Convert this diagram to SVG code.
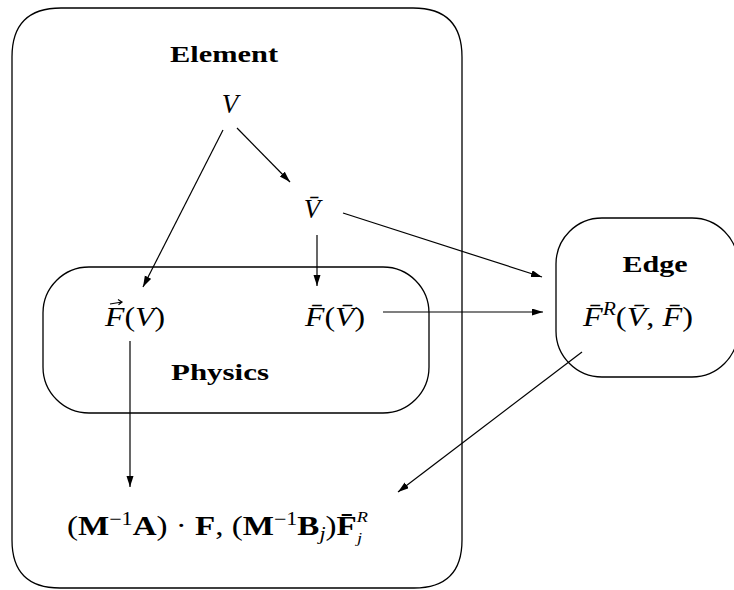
<svg xmlns="http://www.w3.org/2000/svg" width="734" height="590" viewBox="0 0 734 590">
<style>
.box{fill:none;stroke:#000;stroke-width:1.3}
.lbl{font-family:"Liberation Serif",serif;font-weight:bold;font-size:24px;fill:#000}
.m{font-family:"Liberation Serif","DejaVu Serif",serif;font-style:italic;font-size:27px;fill:#000}
.up{font-style:normal}
.b{font-weight:bold;font-style:normal}
.sm{font-size:18px}
.xs{font-size:15px}
.con line{stroke:#000;stroke-width:1.2;marker-end:url(#ah)}
.acc{stroke:#000;stroke-width:1.2;fill:none}
</style>
<defs>
<marker id="ah" markerUnits="userSpaceOnUse" markerWidth="12" markerHeight="8" refX="11" refY="3.5" orient="auto">
<path d="M0,0 L11,3.5 L0,7 z" fill="#000"/>
</marker>
</defs>
<rect width="734" height="590" fill="#fff"/>
<g id="element">
<path class="box" d="M12,540 L12,57 Q12,8 61,8 L413,8 Q462,8 462,57 L462,540 Q462,588 414,588 L60,588 Q12,588 12,540 Z"/>
<text class="lbl" x="224" y="62" text-anchor="middle" textLength="108" lengthAdjust="spacingAndGlyphs">Element</text>
</g>
<g id="V"><text class="m" x="230" y="113" text-anchor="middle">V</text></g>
<g id="Vbar"><text class="m" x="312" y="218" text-anchor="middle">V̄</text></g>
<g id="physics">
<rect class="box" x="43" y="267" width="386" height="146" rx="46" ry="46"/>
<text class="lbl" x="220" y="380" text-anchor="middle" textLength="98" lengthAdjust="spacingAndGlyphs">Physics</text>
</g>
<g id="FV">
<text class="m" x="105" y="326" textLength="60" lengthAdjust="spacingAndGlyphs">F<tspan class="up">(</tspan>V<tspan class="up">)</tspan></text>
<path class="acc" d="M110,304 L122,302 M118,299.5 L122,302 L118.5,304.8"/>
</g>
<g id="FbarVbar"><text class="m" x="305" y="326" textLength="60" lengthAdjust="spacingAndGlyphs">F̄<tspan class="up">(</tspan>V̄<tspan class="up">)</tspan></text></g>
<g id="edge">
<rect class="box" x="556" y="218" width="182" height="159" rx="46" ry="46"/>
<text class="lbl" x="655" y="272" text-anchor="middle" textLength="65" lengthAdjust="spacingAndGlyphs">Edge</text>
<text class="m" x="583" y="326" textLength="110" lengthAdjust="spacingAndGlyphs">F̄<tspan class="sm" dy="-11">R</tspan><tspan class="up" dy="11">(</tspan>V̄<tspan class="up">, </tspan>F̄<tspan class="up">)</tspan></text>
</g>
<g id="result">
<text class="m" x="67" y="535" textLength="301" lengthAdjust="spacingAndGlyphs"><tspan class="up">(</tspan><tspan class="b">M</tspan><tspan class="up sm" dy="-10">−1</tspan><tspan class="b" dy="10">A</tspan><tspan class="up">) · </tspan><tspan class="b">F</tspan><tspan class="up">, (</tspan><tspan class="b">M</tspan><tspan class="up sm" dy="-10">−1</tspan><tspan class="b" dy="10">B</tspan><tspan class="sm" dy="5">j</tspan><tspan class="up" dy="-5">)</tspan><tspan class="b">F̄</tspan><tspan class="xs" dy="-13">R</tspan><tspan class="xs" dx="-9" dy="21">j</tspan></text>
</g>
<g class="con" id="connectors">
<line x1="237" y1="128" x2="290" y2="182"/>
<line x1="223" y1="130" x2="143" y2="287"/>
<line x1="317" y1="235" x2="317" y2="286"/>
<line x1="343" y1="213" x2="542" y2="277"/>
<line x1="383" y1="312" x2="543" y2="312"/>
<line x1="130" y1="341" x2="130" y2="487"/>
<line x1="582" y1="352" x2="398" y2="492"/>
</g>
</svg>
